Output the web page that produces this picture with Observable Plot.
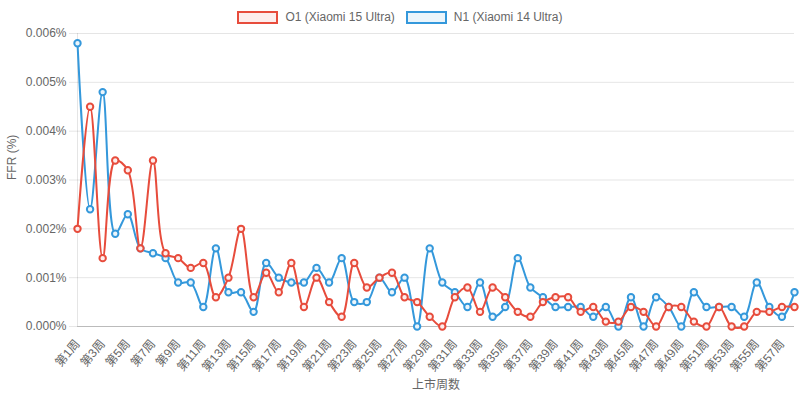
<!DOCTYPE html>
<html>
<head>
<meta charset="utf-8">
<script src="https://cdn.jsdelivr.net/npm/d3@7"></script>
<script src="https://cdn.jsdelivr.net/npm/@observablehq/plot@0.6"></script>
<style>
  body { margin: 0; background: #fff; }
  #wrap { width: 800px; font-family: "Liberation Sans", Arial, "Noto Sans CJK SC", sans-serif; color: #666; }
  #legend { height: 24px; display: flex; justify-content: center; align-items: flex-start; font-size: 12px; }
  .item { display: flex; align-items: center; margin-top: 10px; height: 14px; }
  .box { width: 41px; height: 13px; box-sizing: border-box; border: 2px solid; margin-right: 7px; }
  .item + .item { margin-left: 11px; }
</style>
</head>
<body>
<div id="wrap">
  <div id="legend"></div>
  <div id="chart"></div>
</div>
<script>
const weeks = ["第1周","第2周","第3周","第4周","第5周","第6周","第7周","第8周","第9周","第10周",
  "第11周","第12周","第13周","第14周","第15周","第16周","第17周","第18周","第19周","第20周",
  "第21周","第22周","第23周","第24周","第25周","第26周","第27周","第28周","第29周","第30周",
  "第31周","第32周","第33周","第34周","第35周","第36周","第37周","第38周","第39周","第40周",
  "第41周","第42周","第43周","第44周","第45周","第46周","第47周","第48周","第49周","第50周",
  "第51周","第52周","第53周","第54周","第55周","第56周","第57周","第58周"];
const xTickLabels = ["第1周","第3周","第5周","第7周","第9周","第11周","第13周","第15周","第17周","第19周",
  "第21周","第23周","第25周","第27周","第29周","第31周","第33周","第35周","第37周","第39周",
  "第41周","第43周","第45周","第47周","第49周","第51周","第53周","第55周","第57周"];
const yTicks = [0, 0.001, 0.002, 0.003, 0.004, 0.005, 0.006];

const seriesNames = ["O1 (Xiaomi 15 Ultra)", "N1 (Xiaomi 14 Ultra)"];
const seriesColors = ["#e74c3c", "#3498db"];
const seriesFills = ["#fdedec", "#ebf5fb"];

const o1 = [0.0020,0.0045,0.0014,0.0034,0.0032,0.0016,0.0034,0.0015,0.0014,0.0012,
  0.0013,0.0006,0.0010,0.0020,0.0006,0.0011,0.0007,0.0013,0.0004,0.0010,
  0.0005,0.0002,0.0013,0.0008,0.0010,0.0011,0.0006,0.0005,0.0002,0.0000,
  0.0006,0.0008,0.0003,0.0008,0.0006,0.0003,0.0002,0.0005,0.0006,0.0006,
  0.0003,0.0004,0.0001,0.0001,0.0004,0.0003,0.0000,0.0004,0.0004,0.0001,
  0.0000,0.0004,0.0000,0.0000,0.0003,0.0003,0.0004,0.0004];
const n1 = [0.0058,0.0024,0.0048,0.0019,0.0023,0.0016,0.0015,0.0014,0.0009,0.0009,
  0.0004,0.0016,0.0007,0.0007,0.0003,0.0013,0.0010,0.0009,0.0009,0.0012,
  0.0009,0.0014,0.0005,0.0005,0.0010,0.0007,0.0010,0.0000,0.0016,0.0009,
  0.0007,0.0004,0.0009,0.0002,0.0004,0.0014,0.0008,0.0006,0.0004,0.0004,
  0.0004,0.0002,0.0004,0.0000,0.0006,0.0000,0.0006,0.0004,0.0000,0.0007,
  0.0004,0.0004,0.0004,0.0002,0.0009,0.0004,0.0002,0.0007];

// legend
const legend = document.getElementById("legend");
seriesNames.forEach((name, i) => {
  const item = document.createElement("div");
  item.className = "item";
  const box = document.createElement("span");
  box.className = "box";
  box.style.borderColor = seriesColors[i];
  box.style.background = seriesFills[i];
  const label = document.createElement("span");
  label.textContent = name;
  item.appendChild(box);
  item.appendChild(label);
  legend.appendChild(item);
});

const xOf = (d, i) => weeks[i];
const seriesMarks = (vals, k) => [
  Plot.line(vals, {x: xOf, y: d => d, curve: "catmull-rom", stroke: seriesColors[k], strokeWidth: 2}),
  Plot.dot(vals, {x: xOf, y: d => d, r: 3.2, stroke: seriesColors[k], strokeWidth: 2, fill: seriesFills[k]})
];

const chart = Plot.plot({
  width: 800,
  height: 377,
  marginTop: 9,
  marginBottom: 75,
  marginLeft: 77,
  marginRight: 6,
  style: {fontFamily: "'Liberation Sans', Arial, 'Noto Sans CJK SC', sans-serif", fontSize: "12px", color: "#666", background: "#fff"},
  x: {type: "point", domain: weeks, padding: 0},
  y: {domain: [0, 0.006]},
  marks: [
    Plot.gridY(yTicks, {stroke: "#000", strokeOpacity: 0.1}),
    Plot.axisY(yTicks, {tickSize: 8, tickPadding: 3, stroke: "#e6e6e6", strokeOpacity: 1, fill: "#666", tickFormat: d => d3.format(".3f")(d) + "%", label: null}),
    Plot.ruleX([weeks[0]], {stroke: "#000", strokeOpacity: 0.1}),
    Plot.ruleY([0], {stroke: "#000", strokeOpacity: 0.18}),
    Plot.axisX(xTickLabels, {tickSize: 0, tickPadding: 15, tickRotate: -50, fill: "#666", label: null}),
    Plot.text(["上市周数"], {frameAnchor: "bottom", dy: 62, fill: "#666", fontSize: 12}),
    Plot.text(["FFR (%)"], {frameAnchor: "left", dx: -65, rotate: -90, fill: "#666", fontSize: 12}),
    ...seriesMarks(n1, 1),
    ...seriesMarks(o1, 0)
  ]
});
document.getElementById("chart").appendChild(chart);
</script>
</body>
</html>
